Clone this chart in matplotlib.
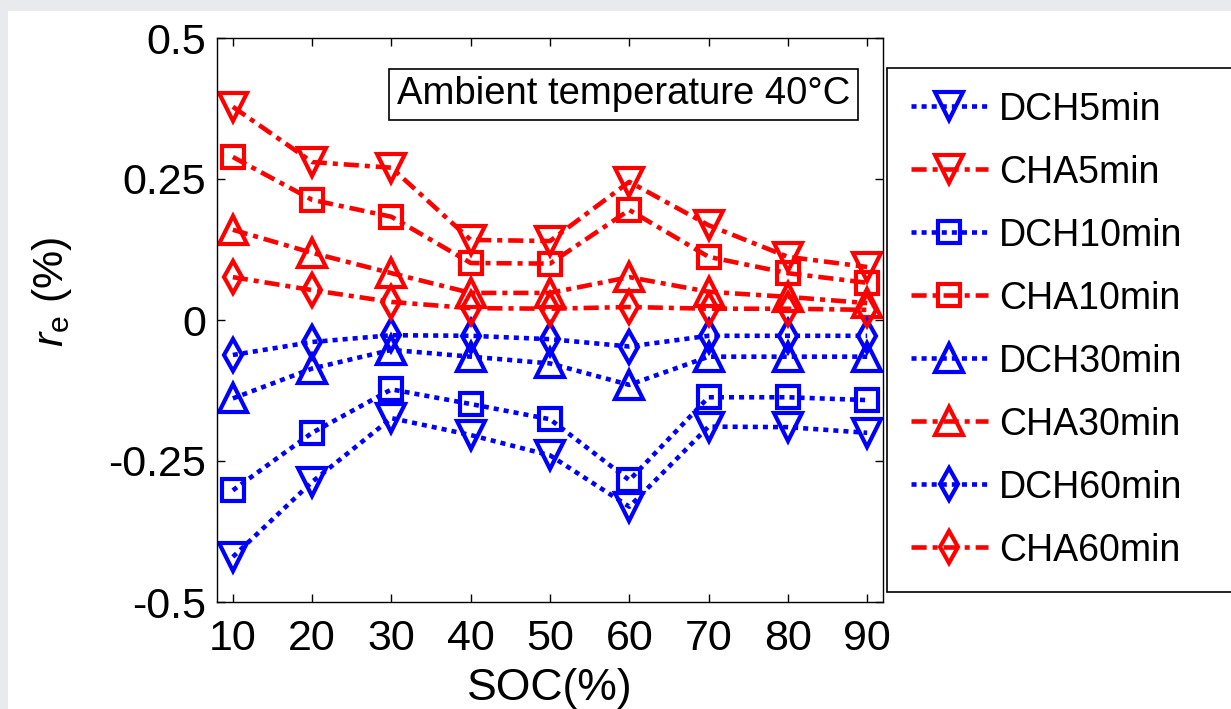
import matplotlib
matplotlib.use('Agg')
from matplotlib import pyplot as plt
from matplotlib.patches import Rectangle

plt.rcParams['font.family'] = ['Liberation Sans', 'DejaVu Sans']
plt.rcParams['mathtext.fontset'] = 'custom'
plt.rcParams['mathtext.rm'] = 'Liberation Sans'
plt.rcParams['mathtext.it'] = 'Liberation Sans:italic'
plt.rcParams['axes.unicode_minus'] = False

# data
soc = [10, 20, 30, 40, 50, 60, 70, 80, 90]
dch5 = [-0.42, -0.287, -0.174, -0.204, -0.24, -0.331, -0.189, -0.19, -0.2]
cha5 = [0.378, 0.28, 0.27, 0.142, 0.14, 0.245, 0.168, 0.112, 0.094]
dch10 = [-0.302, -0.2, -0.123, -0.149, -0.176, -0.284, -0.137, -0.137, -0.142]
cha10 = [0.289, 0.213, 0.183, 0.101, 0.10, 0.195, 0.112, 0.083, 0.066]
dch30 = [-0.139, -0.086, -0.053, -0.065, -0.077, -0.115, -0.065, -0.065, -0.065]
cha30 = [0.16, 0.119, 0.083, 0.048, 0.048, 0.076, 0.05, 0.041, 0.03]
dch60 = [-0.062, -0.039, -0.027, -0.028, -0.034, -0.047, -0.028, -0.028, -0.028]
cha60 = [0.076, 0.053, 0.032, 0.021, 0.02, 0.023, 0.02, 0.02, 0.018]

labels = ['DCH5min', 'CHA5min', 'DCH10min', 'CHA10min',
          'DCH30min', 'CHA30min', 'DCH60min', 'CHA60min']
values = [dch5, cha5, dch10, cha10, dch30, cha30, dch60, cha60]

yticks = [-0.5, -0.25, 0, 0.25, 0.5]
ytick_labels = ['-0.5', '-0.25', '0', '0.25', '0.5']

markers = ['v', 'v', 's', 's', '^', '^', 'd', 'd']
msizes = [20, 20, 16, 16, 20, 20, 16, 16]

W, H = 1231, 709
fig = plt.figure(figsize=(W / 100, H / 100), dpi=100, facecolor='#e8eaee')
fig.patches.append(Rectangle((8 / W, 0), 1, (H - 11) / H, transform=fig.transFigure,
                             facecolor='white', edgecolor='none', zorder=-10))

ax = fig.add_axes([217 / W, (H - 602) / H, (883 - 217) / W, (602 - 38) / H])

for i in range(len(labels)):
    if labels[i].startswith('DCH'):
        col = 'blue'
        ls = (0, (1.1, 1.1))
    else:
        col = 'red'
        ls = (0, (3.3, 1.3, 1.1, 1.3))
    ax.plot(soc, values[i], color=col, linestyle=ls, linewidth=3.3,
            marker=markers[i], markersize=msizes[i], markerfacecolor='none',
            markeredgecolor=col, markeredgewidth=3.0, label=labels[i])

ax.set_xlim(8, 92)
ax.set_ylim(-0.5, 0.5)
ax.set_xticks(soc)
ax.set_yticks(yticks)
ax.set_yticklabels(ytick_labels)
ax.tick_params(direction='in', length=6, width=1, top=True, right=True, labelsize=31)
ax.tick_params(axis='x', pad=12)
ax.tick_params(axis='y', pad=8)
for sp in ax.spines.values():
    sp.set_linewidth(1.0)

ax.set_xlabel('SOC(%)', fontsize=32)
ax.xaxis.set_label_coords(0.5, -0.117)
ax.set_ylabel(r'$r_{\mathrm{e}}$ (%)', fontsize=31)
ax.yaxis.set_label_coords(-0.215, 0.55)

ax.text(0.61, 0.90, 'Ambient temperature 40°C', transform=ax.transAxes,
        ha='center', va='center', fontsize=27.5,
        bbox=dict(boxstyle='square,pad=0.2', facecolor='white', edgecolor='black', linewidth=1.2))

leg = ax.legend(loc='upper left', bbox_to_anchor=(887 / W, 0.1735, (1260 - 887) / W, (586 - 68) / H),
                bbox_transform=fig.transFigure, mode='expand', borderaxespad=0,
                fontsize=27, handlelength=2.05, handletextpad=0.3, labelspacing=0.72,
                borderpad=0.63, fancybox=False, framealpha=1, edgecolor='black')
leg.get_frame().set_linewidth(1.2)

fig.savefig('out.png', dpi=100, facecolor=fig.get_facecolor())
